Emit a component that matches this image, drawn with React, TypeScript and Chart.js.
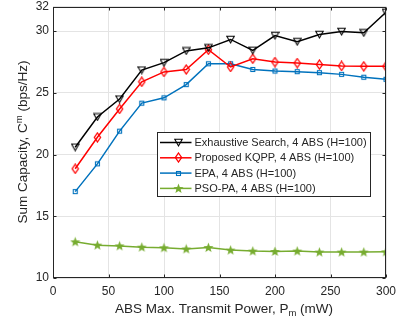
import React, { useEffect, useRef } from 'react';
import { Chart, registerables } from 'chart.js';

Chart.register(...registerables);

const powers = [20, 40, 60, 80, 100, 120, 140, 160, 180, 200, 220, 240, 260, 280, 300];
const exhaustive = [20.6, 23.05, 24.5, 26.85, 27.45, 28.4, 28.65, 29.33, 28.45, 29.65, 29.15, 29.73, 29.97, 29.87, 31.53];
const kqpp = [18.85, 21.4, 23.7, 25.9, 26.7, 26.9, 28.5, 27.1, 27.77, 27.5, 27.42, 27.3, 27.18, 27.15, 27.15];
const epa = [17.0, 19.25, 21.9, 24.17, 24.6, 25.67, 27.36, 27.36, 26.9, 26.77, 26.72, 26.64, 26.5, 26.27, 26.1];
const psopa = [12.93, 12.66, 12.6, 12.5, 12.45, 12.35, 12.47, 12.26, 12.18, 12.15, 12.18, 12.1, 12.1, 12.1, 12.12];

const seriesLabels = [
  'Exhaustive Search, 4 ABS (H=100)',
  'Proposed KQPP, 4 ABS (H=100)',
  'EPA, 4 ABS (H=100)',
  'PSO-PA, 4 ABS (H=100)',
];
const seriesColors = ['#000000', '#ff0000', '#0072bd', '#77ac30'];

const xTicks = [0, 50, 100, 150, 200, 250, 300];
const yTicks = [10, 15, 20, 25, 30, 32];

const FONT = "'Liberation Sans', Arial, Helvetica, sans-serif";
const TEXT = '#262626';

function makeMarker(kind: string, color: string): HTMLCanvasElement {
  const c = document.createElement('canvas');
  const ctx = c.getContext('2d')!;
  if (kind === 'tri') {
    c.width = 9; c.height = 9;
    ctx.strokeStyle = color; ctx.lineWidth = 1.1;
    ctx.beginPath();
    ctx.moveTo(0.8, 1.3); ctx.lineTo(8.2, 1.3); ctx.lineTo(4.5, 7.9); ctx.closePath();
    ctx.stroke();
  } else if (kind === 'diamond') {
    c.width = 9; c.height = 11;
    ctx.strokeStyle = color; ctx.lineWidth = 1.3;
    ctx.beginPath();
    ctx.moveTo(4.5, 1.0); ctx.lineTo(7.6, 5.5); ctx.lineTo(4.5, 10.0); ctx.lineTo(1.4, 5.5); ctx.closePath();
    ctx.stroke();
  } else if (kind === 'square') {
    c.width = 7; c.height = 7;
    ctx.strokeStyle = color; ctx.lineWidth = 1.1;
    ctx.strokeRect(1.5, 1.5, 4, 4);
  } else {
    c.width = 11; c.height = 11;
    ctx.fillStyle = color;
    ctx.beginPath();
    for (let i = 0; i < 10; i++) {
      const r = i % 2 === 0 ? 5.3 : 2.2;
      const a = -Math.PI / 2 + (i * Math.PI) / 5;
      const px = 5.5 + r * Math.cos(a);
      const py = 5.8 + r * Math.sin(a);
      if (i === 0) ctx.moveTo(px, py); else ctx.lineTo(px, py);
    }
    ctx.closePath();
    ctx.fill();
  }
  return c;
}

export default function App() {
  const ref = useRef<HTMLCanvasElement | null>(null);

  useEffect(() => {
    document.body.style.margin = '0';
    const canvas = ref.current!;
    const markers = [
      makeMarker('tri', seriesColors[0]),
      makeMarker('diamond', seriesColors[1]),
      makeMarker('square', seriesColors[2]),
      makeMarker('star', seriesColors[3]),
    ];
    const seriesValues = [exhaustive, kqpp, epa, psopa];

    const framePlugin = {
      id: 'frame',
      afterDatasetsDraw(chart: any) {
        const { ctx, chartArea: a, scales } = chart;
        const xs = scales.x;
        const ys = scales.y;
        ctx.save();
        ctx.strokeStyle = TEXT;
        ctx.lineWidth = 1;
        const L = Math.round(a.left) + 0.5;
        const R = Math.round(a.right) - 0.5;
        const T = Math.round(a.top) + 0.5;
        const B = Math.round(a.bottom) - 0.5;
        ctx.beginPath();
        xs.ticks.forEach((t: any) => {
          const px = Math.round(xs.getPixelForValue(t.value)) + 0.5;
          ctx.moveTo(px, B); ctx.lineTo(px, B - 3);
          ctx.moveTo(px, T); ctx.lineTo(px, T + 3);
        });
        ys.ticks.forEach((t: any) => {
          const py = Math.round(ys.getPixelForValue(t.value)) + 0.5;
          ctx.moveTo(L, py); ctx.lineTo(L + 3, py);
          ctx.moveTo(R, py); ctx.lineTo(R - 3, py);
        });
        ctx.stroke();
        ctx.strokeRect(L, T, R - L, B - T);
        ctx.restore();
      },
      afterDraw(chart: any) {
        const { ctx, chartArea: a } = chart;
        ctx.save();
        ctx.fillStyle = TEXT;
        const big = 13.5;
        const small = 9.5;
        // x title with subscript
        const xParts = ['ABS Max. Transmit Power, P', 'm', ' (mW)'];
        ctx.font = `${big}px ${FONT}`;
        const w0 = ctx.measureText(xParts[0]).width;
        const w2 = ctx.measureText(xParts[2]).width;
        ctx.font = `${small}px ${FONT}`;
        const w1 = ctx.measureText(xParts[1]).width;
        const total = w0 + w1 + w2;
        let x = 224 - total / 2;
        const by = 312.5;
        ctx.textBaseline = 'alphabetic';
        ctx.textAlign = 'left';
        ctx.font = `${big}px ${FONT}`;
        ctx.fillText(xParts[0], x, by);
        x += w0;
        ctx.font = `${small}px ${FONT}`;
        ctx.fillText(xParts[1], x, by + 3.5);
        x += w1;
        ctx.font = `${big}px ${FONT}`;
        ctx.fillText(xParts[2], x, by);

        // y title with superscript
        const yParts = ['Sum Capacity, C', 'm', ' (bps/Hz)'];
        ctx.font = `${big}px ${FONT}`;
        const v0 = ctx.measureText(yParts[0]).width;
        const v2 = ctx.measureText(yParts[2]).width;
        ctx.font = `${small}px ${FONT}`;
        const v1 = ctx.measureText(yParts[1]).width;
        const vt = v0 + v1 + v2;
        ctx.translate(27, 142);
        ctx.rotate(-Math.PI / 2);
        let sx = -vt / 2;
        ctx.font = `${big}px ${FONT}`;
        ctx.fillText(yParts[0], sx, 0);
        sx += v0;
        ctx.font = `${small}px ${FONT}`;
        ctx.fillText(yParts[1], sx, -5.5);
        sx += v1;
        ctx.font = `${big}px ${FONT}`;
        ctx.fillText(yParts[2], sx, 0);
        ctx.restore();

        // legend
        ctx.save();
        const lx = 157.5, ly = 132.5, lw = 213, lh = 64;
        ctx.fillStyle = '#ffffff';
        ctx.fillRect(lx, ly, lw, lh);
        ctx.strokeStyle = TEXT;
        ctx.lineWidth = 1;
        ctx.strokeRect(lx, ly, lw, lh);
        ctx.font = `11px ${FONT}`;
        ctx.textBaseline = 'middle';
        ctx.textAlign = 'left';
        seriesLabels.forEach((label, i) => {
          const cy = 142.5 + i * 15.3;
          ctx.strokeStyle = seriesColors[i];
          ctx.lineWidth = 1.5;
          ctx.beginPath();
          ctx.moveTo(lx + 2.5, cy);
          ctx.lineTo(lx + 34, cy);
          ctx.stroke();
          const m = markers[i];
          ctx.drawImage(m, Math.round(lx + 21 - m.width / 2), Math.round(cy - m.height / 2));
          ctx.fillStyle = TEXT;
          ctx.fillText(label, lx + 37, cy + 0.5);
        });
        ctx.restore();
      },
    };

    const chart = new Chart(canvas, {
      type: 'line',
      data: {
        datasets: seriesValues.map((vals, i) => ({
          label: seriesLabels[i],
          data: powers.map((p, j) => ({ x: p, y: vals[j] })),
          borderColor: seriesColors[i],
          backgroundColor: seriesColors[i],
          borderWidth: 1.5,
          pointStyle: markers[i] as any,
          pointRadius: 5,
          pointHoverRadius: 5,
          tension: 0,
          fill: false,
        })),
      },
      options: {
        animation: false,
        responsive: false,
        maintainAspectRatio: false,
        layout: { padding: { left: 0, top: 5, right: 14, bottom: 0 } },
        plugins: {
          legend: { display: false },
          tooltip: { enabled: false },
        },
        scales: {
          x: {
            type: 'linear',
            min: 0,
            max: 300,
            afterBuildTicks: (s: any) => { s.ticks = xTicks.map((v) => ({ value: v })); },
            afterFit: (s: any) => { s.height = 47; s.paddingLeft = 0; s.paddingRight = 0; },
            grid: { color: '#e4e4e4', drawTicks: false, lineWidth: 1 },
            border: { display: false },
            ticks: { color: TEXT, font: { family: FONT, size: 12 }, padding: 6, maxRotation: 0 },
          },
          y: {
            type: 'linear',
            min: 10,
            max: 32,
            afterBuildTicks: (s: any) => { s.ticks = yTicks.map((v) => ({ value: v })); },
            afterFit: (s: any) => { s.width = 53; s.paddingTop = 0; s.paddingBottom = 0; },
            grid: { color: '#e4e4e4', drawTicks: false, lineWidth: 1 },
            border: { display: false },
            ticks: { color: TEXT, font: { family: FONT, size: 12 }, padding: 4 },
          },
        },
      },
      plugins: [framePlugin],
    });
    return () => chart.destroy();
  }, []);

  return <canvas ref={ref} width={400} height={325} style={{ display: 'block' }} />;
}
